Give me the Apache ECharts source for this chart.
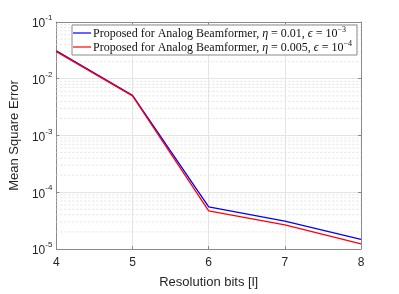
<!DOCTYPE html>
<html><head><meta charset="utf-8">
<script src="https://cdn.jsdelivr.net/npm/echarts@6/dist/echarts.min.js"></script>
<style>html,body{margin:0;padding:0;background:#fff}#c{width:399px;height:294px}</style>
</head><body><div id="c"></div>
<script>
const bits = [4, 5, 6, 7, 8];
const mseA = [0.031, 0.0051, 5.5e-5, 3.1e-5, 1.48e-5];
const mseB = [0.030, 0.0050, 4.7e-5, 2.65e-5, 1.23e-5];
const nameA = 'A';
const nameB = 'B';
const legendA = ['0.01', '−3'];
const legendB = ['0.005', '−4'];

const minorVals = [];
for (let e = -5; e < -1; e++) for (let m = 2; m <= 9; m++) minorVals.push(m * Math.pow(10, e));

const axisCol = '#8a8a8a';
const txtCol = '#262626';
const minorSeries = minorVals.map(v => ({
  type: 'line', data: [[4, v], [8, v]], symbol: 'none', silent: true, z: 1,
  lineStyle: {color: '#e3e3e3', type: [2, 2], width: 1}, tooltip: {show: false}
}));

const chart = echarts.init(document.getElementById('c'), null, {renderer: 'canvas'});
chart.setOption({
  animation: false,
  grid: {left: 52, right: 38, top: 22, bottom: 38},
  xAxis: [{
    type: 'value', min: 4, max: 8, interval: 1,
    name: 'Resolution bits [l]', nameLocation: 'middle', nameGap: 27,
    nameTextStyle: {fontFamily: 'Liberation Sans', fontSize: 13, color: txtCol},
    axisLine: {lineStyle: {color: axisCol}}, axisTick: {inside: true, length: 3, lineStyle: {color: axisCol}},
    axisLabel: {fontFamily: 'Liberation Sans', fontSize: 12, color: txtCol, margin: 8},
    splitLine: {show: true, lineStyle: {color: '#e4e4e4', width: 1}}
  }, {
    type: 'value', min: 4, max: 8, interval: 1, position: 'top',
    axisLine: {show: true, lineStyle: {color: axisCol}}, axisTick: {inside: true, length: 3, lineStyle: {color: axisCol}},
    axisLabel: {show: false}, splitLine: {show: false}
  }],
  yAxis: [{
    type: 'log', logBase: 10, min: 1e-5, max: 1e-1,
    name: 'Mean Square Error', nameLocation: 'middle', nameGap: 33,
    nameTextStyle: {fontFamily: 'Liberation Sans', fontSize: 13, color: txtCol},
    axisLine: {show: true, lineStyle: {color: axisCol}}, axisTick: {show: true, inside: true, length: 3, lineStyle: {color: axisCol}},
    axisLabel: {
      margin: 4,
      formatter: v => { const e = Math.round(Math.log10(v)); return '{b|10}{s|' + e + '}'; },
      rich: {
        b: {fontFamily: 'Liberation Sans', fontSize: 12, color: txtCol, lineHeight: 16, verticalAlign: 'bottom'},
        s: {fontFamily: 'Liberation Sans', fontSize: 8, color: txtCol, lineHeight: 16, verticalAlign: 'top'}
      }
    },
    splitLine: {show: true, lineStyle: {color: '#e4e4e4', width: 1}}
  }, {
    type: 'log', logBase: 10, min: 1e-5, max: 1e-1, position: 'right',
    axisLine: {show: true, lineStyle: {color: axisCol}}, axisTick: {show: true, inside: true, length: 3, lineStyle: {color: axisCol}},
    axisLabel: {show: false}, splitLine: {show: false}
  }],
  legend: {
    orient: 'vertical', left: 72, top: 25, itemGap: 0,
    itemWidth: 18, itemHeight: 1.2, itemStyle: {borderWidth: 0}, padding: [1, 5, 1, 1],
    backgroundColor: '#fff', borderColor: '#8a8a8a', borderWidth: 1, borderRadius: 0,
    icon: 'rect',
    data: [nameA, nameB],
    formatter: n => {
      const L = n === nameA ? legendA : legendB;
      return '{n|Proposed for Analog Beamformer, }{i|η}{n| = ' + L[0] + ', }{i|ϵ}{n| = 10}{s|' + L[1] + '}';
    },
    textStyle: {
      padding: [0, 0, 0, -3],
      rich: {
        n: {fontFamily: 'Liberation Serif', fontSize: 12, color: '#111', lineHeight: 14, verticalAlign: 'bottom'},
        i: {fontFamily: 'Liberation Serif', fontStyle: 'italic', fontSize: 12, color: '#111', lineHeight: 14, verticalAlign: 'bottom'},
        s: {fontFamily: 'Liberation Serif', fontSize: 8, color: '#111', lineHeight: 14, verticalAlign: 'top'}
      }
    }
  },
  series: [{
    name: nameA, type: 'line', data: bits.map((b, i) => [b, mseA[i]]),
    showSymbol: false, symbol: 'none', lineStyle: {color: '#0000ff', width: 1.3}, itemStyle: {color: '#0000ff'}, z: 3
  }, {
    name: nameB, type: 'line', data: bits.map((b, i) => [b, mseB[i]]),
    showSymbol: false, symbol: 'none', lineStyle: {color: '#ff0000', width: 1.3}, itemStyle: {color: '#ff0000'}, z: 4
  }].concat(minorSeries)
});
</script></body></html>
